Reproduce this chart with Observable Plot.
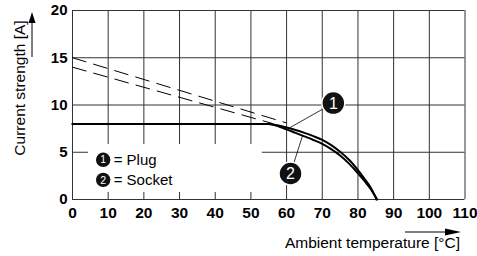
<!DOCTYPE html>
<html>
<head>
<meta charset="utf-8">
<script src="https://cdn.jsdelivr.net/npm/d3@7"></script>
<script src="https://cdn.jsdelivr.net/npm/@observablehq/plot@0.6"></script>
<style>
  html, body { margin: 0; padding: 0; background: #fff; }
  svg { display: block; }
</style>
</head>
<body>
<div id="chart"></div>
<script>
// ---- data ----
const xTicks = [0, 10, 20, 30, 40, 50, 60, 70, 80, 90, 100, 110];
const yTicks = [0, 5, 10, 15, 20];

const plugX = [0, 55, 58, 60, 62.5, 65, 67.5, 70, 72.5, 75, 77.5, 80, 82, 83.5, 84.5, 85.2];
const plugY = [8, 8, 7.8, 7.62, 7.35, 7.05, 6.7, 6.3, 5.75, 5.05, 4.2, 3.1, 2.1, 1.3, 0.6, 0];

const socketX = [0, 55, 58, 60, 62.5, 65, 67.5, 70, 72.5, 75, 77.5, 80, 82, 83.5, 84.5, 85.4];
const socketY = [8, 8, 7.7, 7.42, 7.05, 6.68, 6.3, 5.88, 5.33, 4.65, 3.8, 2.78, 1.88, 1.15, 0.55, 0];

const dashUpperX = [0, 60];
const dashUpperY = [15, 8.1];
const dashLowerX = [0, 56];
const dashLowerY = [14, 8.05];

const legendLabels = ["= Plug", "= Socket"];
const legendNums = ["1", "2"];
const xTitle = "Ambient temperature [°C]";
const yTitle = "Current strength [A]";

// ---- build tables ----
const plug = plugX.map((x, i) => ({x, y: plugY[i]}));
const socket = socketX.map((x, i) => ({x, y: socketY[i]}));
const dashU = dashUpperX.map((x, i) => ({x, y: dashUpperY[i]}));
const dashL = dashLowerX.map((x, i) => ({x, y: dashLowerY[i]}));

// annotation positions (data coords)
const callouts = [
  {num: "1", cx: 73.1, cy: 10.2, tx: 61, ty: 7.62},
  {num: "2", cx: 61.1, cy: 2.75, tx: 64.5, ty: 6.8}
];
const legend = [
  {num: legendNums[0], label: legendLabels[0], x: 8.6, y: 4.2},
  {num: legendNums[1], label: legendLabels[1], x: 8.6, y: 2.08}
];

const font = "'Liberation Sans', Arial, Helvetica, sans-serif";
const gridColor = "#333";

const chart = Plot.plot({
  width: 477,
  height: 256,
  marginLeft: 72,
  marginRight: 12.5,
  marginTop: 10,
  marginBottom: 57,
  style: {fontFamily: font, fontSize: "15px", background: "#fff", color: "#000"},
  x: {domain: [0, 110]},
  y: {domain: [0, 20]},
  marks: [
    Plot.ruleX(xTicks, {stroke: gridColor, strokeWidth: 1}),
    Plot.ruleY(yTicks, {stroke: gridColor, strokeWidth: 1}),
    // legend background (hides grid)
    Plot.rect([0], {x1: 4.5, x2: 53.2, y1: 0.75, y2: 5.82, fill: "#fff"}),
    Plot.line(dashU, {x: "x", y: "y", stroke: "#000", strokeWidth: 1, strokeDasharray: "14,8"}),
    Plot.line(dashL, {x: "x", y: "y", stroke: "#000", strokeWidth: 1, strokeDasharray: "14,8"}),
    Plot.line(socket, {x: "x", y: "y", stroke: "#000", strokeWidth: 2, curve: "monotone-x"}),
    Plot.line(plug, {x: "x", y: "y", stroke: "#000", strokeWidth: 2, curve: "monotone-x"}),
    Plot.link(callouts, {x1: "cx", y1: "cy", x2: "tx", y2: "ty", stroke: "#000", strokeWidth: 0.8}),
    Plot.dot(callouts, {x: "cx", y: "cy", r: 11.5, fill: "#111", stroke: "#fff", strokeWidth: 1.5}),
    Plot.text(callouts, {x: "cx", y: "cy", text: "num", fill: "#fff", fontSize: 16, dy: 0.5}),
    Plot.dot(legend, {x: "x", y: "y", r: 7.2, fill: "#111"}),
    Plot.text(legend, {x: "x", y: "y", text: "num", fill: "#fff", fontSize: 10.5, dy: 0.3}),
    Plot.text(legend, {x: "x", y: "y", text: "label", fill: "#000", fontSize: 15, textAnchor: "start", dx: 10.5}),
    Plot.axisX({ticks: xTicks, tickSize: 0, tickPadding: 7, fontSize: 15.5, fontWeight: "bold", label: null}),
    Plot.axisY({ticks: yTicks, tickSize: 0, tickPadding: 5, fontSize: 15, fontWeight: "bold", label: null})
  ]
});

const svg = d3.select(chart);
// x title + arrow
svg.append("text")
  .attr("x", 460).attr("y", 248)
  .attr("text-anchor", "end")
  .attr("font-family", font).attr("font-size", 15.5)
  .attr("fill", "#000")
  .text(xTitle);
svg.append("line").attr("x1", 405).attr("x2", 447).attr("y1", 232).attr("y2", 232)
  .attr("stroke", "#000").attr("stroke-width", 1);
svg.append("path").attr("d", "M461,232L445,228.5L445,235.5Z").attr("fill", "#000");

// y title + arrow
svg.append("text")
  .attr("transform", "translate(25,88) rotate(-90)")
  .attr("text-anchor", "middle")
  .attr("font-family", font).attr("font-size", 15.5)
  .attr("fill", "#000")
  .text(yTitle);
svg.append("line").attr("x1", 32).attr("x2", 32).attr("y1", 57).attr("y2", 20)
  .attr("stroke", "#000").attr("stroke-width", 1);
svg.append("path").attr("d", "M32,12L28.5,23L35.5,23Z").attr("fill", "#000");

document.getElementById("chart").appendChild(chart);
</script>
</body>
</html>
